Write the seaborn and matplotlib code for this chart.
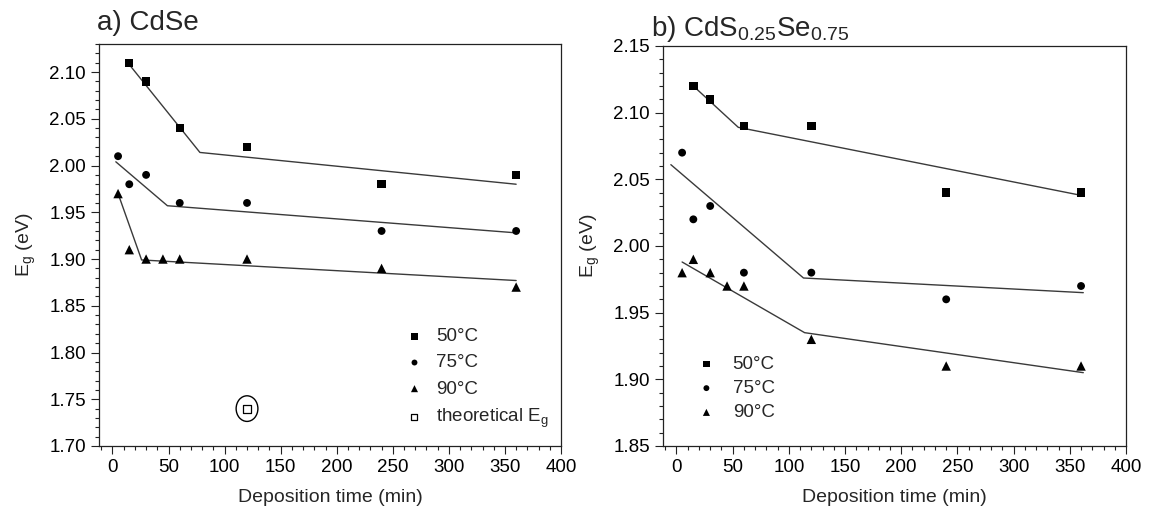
import numpy as np
import pandas as pd
import matplotlib
matplotlib.use("Agg")
import matplotlib.pyplot as plt
from matplotlib.path import Path
from matplotlib.ticker import MultipleLocator
import seaborn as sns

sns.set_theme(style="white")
plt.rcParams['font.family'] = ['Liberation Sans', 'DejaVu Sans']
plt.rcParams['mathtext.default'] = 'regular'

# ---------------- data: a) CdSe ----------------
a_t50 = [15, 30, 60, 120, 240, 360]
a_e50 = [2.11, 2.09, 2.04, 2.02, 1.98, 1.99]
a_t75 = [5, 15, 30, 60, 120, 240, 360]
a_e75 = [2.01, 1.98, 1.99, 1.96, 1.96, 1.93, 1.93]
a_t90 = [5, 15, 30, 45, 60, 120, 240, 360]
a_e90 = [1.97, 1.91, 1.90, 1.90, 1.90, 1.90, 1.89, 1.87]
a_theo_t = [120]
a_theo_e = [1.74]
# fitted two-segment lines (breakpoints)
a_fit50_t = [15, 78, 360]
a_fit50_e = [2.108, 2.014, 1.980]
a_fit75_t = [3, 49, 360]
a_fit75_e = [2.004, 1.957, 1.928]
a_fit90_t = [5, 26, 360]
a_fit90_e = [1.970, 1.899, 1.877]

# ---------------- data: b) CdS0.25Se0.75 ----------------
b_t50 = [15, 30, 60, 120, 240, 360]
b_e50 = [2.12, 2.11, 2.09, 2.09, 2.04, 2.04]
b_t75 = [5, 15, 30, 60, 120, 240, 360]
b_e75 = [2.07, 2.02, 2.03, 1.98, 1.98, 1.96, 1.97]
b_t90 = [5, 15, 30, 45, 60, 120, 240, 360]
b_e90 = [1.98, 1.99, 1.98, 1.97, 1.97, 1.93, 1.91, 1.91]
b_fit50_t = [15, 55, 360]
b_fit50_e = [2.120, 2.089, 2.038]
b_fit75_t = [-5, 113, 362]
b_fit75_e = [2.061, 1.976, 1.965]
b_fit90_t = [5, 114, 362]
b_fit90_e = [1.988, 1.935, 1.905]

labels = ["50°C", "75°C", "90°C"]
markers = ["s", "o", "^"]
sizes = [36, 32, 46]

fig = plt.figure(figsize=(11.54, 5.18), dpi=100)
ax1 = fig.add_axes([99/1154, 72/518, 462/1154, 402/518])
ax2 = fig.add_axes([663/1154, 72/518, 463/1154, 400/518])

line_col = "#3a3a3a"

def draw(ax, pts, fits):
    for (t, e), lab, m, s in zip(pts, labels, markers, sizes):
        sns.scatterplot(x=t, y=e, ax=ax, marker=m, s=s, color="black",
                        edgecolor="none", label=lab, zorder=3)
    for t, e in fits:
        sns.lineplot(x=t, y=e, ax=ax, color=line_col, lw=1.0, sort=False,
                     estimator=None, legend=False, zorder=2)

draw(ax1, [(a_t50, a_e50), (a_t75, a_e75), (a_t90, a_e90)],
     [(a_fit50_t, a_fit50_e), (a_fit75_t, a_fit75_e), (a_fit90_t, a_fit90_e)])
sns.scatterplot(x=a_theo_t, y=a_theo_e, ax=ax1, marker="s", s=40,
                facecolor="white", edgecolor="black", linewidth=0.9,
                label="theoretical E$_g$", zorder=3)
circ = Path.unit_circle()
ell = Path(circ.vertices * np.array([0.85, 1.0]), circ.codes)
ax1.scatter(a_theo_t, a_theo_e, marker=ell, s=340, facecolor="none",
            edgecolor="black", linewidth=1.0, zorder=3)

draw(ax2, [(b_t50, b_e50), (b_t75, b_e75), (b_t90, b_e90)],
     [(b_fit50_t, b_fit50_e), (b_fit75_t, b_fit75_e), (b_fit90_t, b_fit90_e)])

for ax, ylim, ymaj in [(ax1, (1.70, 2.13), 0.05), (ax2, (1.85, 2.15), 0.05)]:
    ax.set_xlim(-12, 400)
    ax.set_ylim(*ylim)
    ax.xaxis.set_major_locator(MultipleLocator(50))
    ax.xaxis.set_minor_locator(MultipleLocator(10))
    ax.yaxis.set_major_locator(MultipleLocator(ymaj))
    ax.yaxis.set_minor_locator(MultipleLocator(0.01))
    ax.yaxis.set_major_formatter(matplotlib.ticker.FormatStrFormatter('%.2f'))
    ax.tick_params(which="both", direction="out", bottom=True, left=True,
                   top=False, right=False, colors="#222222", width=0.8,
                   labelsize=13.5, labelcolor="black")
    ax.tick_params(which="major", length=5.5, pad=4)
    ax.tick_params(which="minor", length=3)
    for sp in ax.spines.values():
        sp.set_color("#222222")
        sp.set_linewidth(0.9)
    ax.set_xlabel("Deposition time (min)", fontsize=14, labelpad=9)
    ax.set_ylabel("E$_g$ (eV)", fontsize=14, labelpad=8)
    ax.grid(False)

ax1.set_title("a) CdSe", loc="left", fontsize=20, pad=10, x=-0.005)
ax2.set_title("b) CdS$_{0.25}$Se$_{0.75}$", loc="left", fontsize=20, pad=7, x=-0.025)

leg1 = ax1.legend(loc="upper left", bbox_to_anchor=(0.622, 0.335), frameon=False,
                  fontsize=13.5, markerscale=0.75, handletextpad=0.55,
                  labelspacing=0.48, handlelength=1.2)
leg2 = ax2.legend(loc="upper left", bbox_to_anchor=(0.033, 0.268), frameon=False,
                  fontsize=13.5, markerscale=0.75, handletextpad=0.8,
                  labelspacing=0.38, handlelength=1.2)

fig.savefig("out.png", dpi=100)
